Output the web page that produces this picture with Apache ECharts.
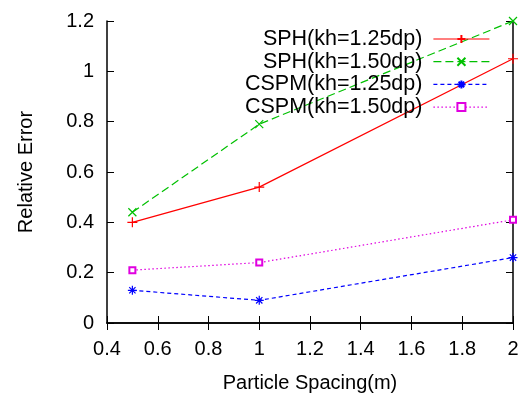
<!DOCTYPE html>
<html><head><meta charset="utf-8">
<script src="https://cdn.jsdelivr.net/npm/echarts@6/dist/echarts.min.js"></script>
<style>html,body{margin:0;padding:0;background:#fff}#c{width:525px;height:394px}</style>
</head><body><div id="c"></div>
<script>
const xValues = [0.5, 1, 2];
const seriesNames = ['SPH(kh=1.25dp)', 'SPH(kh=1.50dp)', 'CSPM(kh=1.25dp)', 'CSPM(kh=1.50dp)'];
const sph125 = [0.40, 0.54, 1.05];
const sph150 = [0.44, 0.79, 1.20];
const cspm125 = [0.13, 0.09, 0.26];
const cspm150 = [0.21, 0.24, 0.41];
const xTitle = 'Particle Spacing(m)';
const yTitle = 'Relative Error';

const FONT = 'Liberation Sans, Arial, sans-serif';
const plus = 'path://M0,5L10,5M5,0L5,10';
const cross = 'path://M0,0L10,10M0,10L10,0';
const star = 'path://M0,5L10,5M5,0L5,10M1.5,1.5L8.5,8.5M1.5,8.5L8.5,1.5';
const pairs = v => xValues.map((x, i) => [x, v[i]]);

const mk = (name, data, color, type, symbol, size) => ({
  name, type: 'line', data: pairs(data), clip: false,
  symbol, symbolSize: size, showSymbol: true,
  lineStyle: { color, width: 1.2, type },
  itemStyle: { color, borderColor: color, borderWidth: 1.2 },
  emphasis: { disabled: true }
});

const chart = echarts.init(document.getElementById('c'), null, { renderer: 'canvas' });
const axisCommon = {
  axisLine: { show: true, lineStyle: { color: '#000', width: 1.5 } },
  axisTick: { show: true, inside: true, length: 7, lineStyle: { color: '#000', width: 1 } },
  splitLine: { show: false }
};
chart.setOption({
  animation: false,
  backgroundColor: '#fff',
  grid: { left: 107, right: 12, top: 21, bottom: 71, outerBoundsMode: 'none', containLabel: false },
  legend: {
    data: seriesNames,
    right: 35, top: 28, padding: 0,
    orient: 'vertical', align: 'right',
    itemWidth: 56, itemHeight: 10, itemGap: 0.7,
    formatter: n => n + ' ',
    lineStyle: { width: 1.2 },
    textStyle: { fontFamily: FONT, fontSize: 21.5, lineHeight: 22, color: '#000' },
    selectedMode: false
  },
  xAxis: [
    Object.assign({}, axisCommon, {
      type: 'value', min: 0.4, max: 2, interval: 0.2,
      name: xTitle, nameLocation: 'middle', nameGap: 50,
      nameTextStyle: { fontFamily: FONT, fontSize: 20, color: '#000' },
      axisLabel: { fontFamily: FONT, fontSize: 20, color: '#000', margin: 16,
        formatter: v => String(Math.round(v * 10) / 10) }
    }),
    Object.assign({}, axisCommon, {
      type: 'value', min: 0.4, max: 2, interval: 0.2, position: 'top',
      axisLabel: { show: false }
    })
  ],
  yAxis: [
    Object.assign({}, axisCommon, {
      type: 'value', min: 0, max: 1.2, interval: 0.2,
      name: yTitle, nameLocation: 'middle', nameGap: 71,
      nameTextStyle: { fontFamily: FONT, fontSize: 20, color: '#000' },
      axisLabel: { fontFamily: FONT, fontSize: 20, color: '#000', margin: 13,
        formatter: v => String(Math.round(v * 10) / 10) }
    }),
    Object.assign({}, axisCommon, {
      type: 'value', min: 0, max: 1.2, interval: 0.2, position: 'right',
      axisLabel: { show: false }
    })
  ],
  series: [
    mk(seriesNames[0], sph125, '#ff0000', 'solid', plus, 10),
    mk(seriesNames[1], sph150, '#00c000', [8, 4], cross, 8),
    mk(seriesNames[2], cspm125, '#0000ff', [4, 3], star, 9),
    mk(seriesNames[3], cspm150, '#e000e0', [1.5, 2.5], 'emptyRect', 6)
  ]
});
</script></body></html>
